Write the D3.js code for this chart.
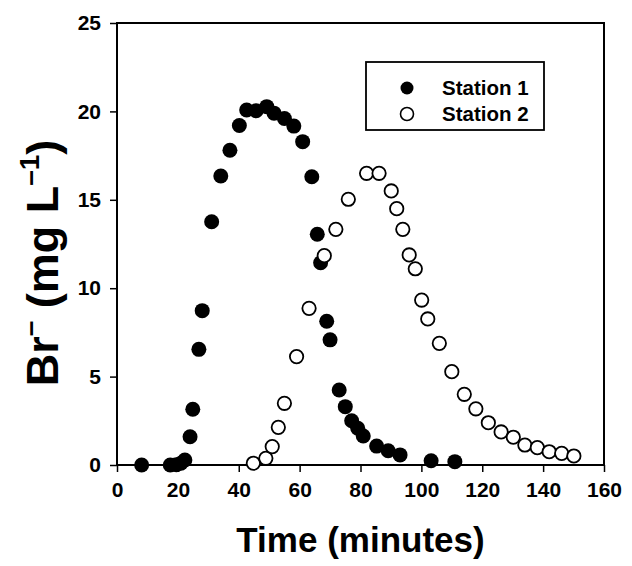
<!DOCTYPE html>
<html>
<head>
<meta charset="utf-8">
<script src="https://cdn.jsdelivr.net/npm/d3@7"></script>
<style>
  body { margin: 0; background: #fff; }
  svg { font-family: Arial, "Liberation Sans", sans-serif; font-weight: bold; }
</style>
</head>
<body>
<div id="chart"></div>
<script>
// Station 1 (filled) - time in minutes, Br- in mg/L
const s1Time = [8.1, 17.5, 19.5, 21, 22.3, 24.0, 24.9, 26.9, 28.0, 31.1, 34.1, 37.1, 40.2, 42.6, 45.7, 49.2, 51.6, 55.0,
  58.1, 61.0, 64.0, 65.8, 66.9, 68.9, 70.0, 73.0, 75.0, 77.1, 79.1, 80.9, 85.3, 89.1, 93.0, 103.2, 111.0];
const s1Br = [0, 0, 0.02, 0.1, 0.28, 1.6, 3.15, 6.54, 8.73, 13.76, 16.35, 17.8, 19.2, 20.08, 20.04, 20.27, 19.9, 19.6,
  19.17, 18.29, 16.3, 13.05, 11.44, 8.13, 7.08, 4.24, 3.3, 2.5, 2.08, 1.64, 1.07, 0.81, 0.57, 0.24, 0.19];

// Station 2 (open)
const s2Time = [44.8, 48.9, 51.0, 53.0, 55.0, 59.0, 63.1, 68.1, 71.9, 76.0, 82.0, 86.1, 90.1, 91.9, 93.9, 96.0, 98.0,
  100.1, 102.1, 105.9, 110.0, 114.1, 117.9, 122.0, 126.2, 130.2, 134.0, 138.1, 142.0, 146.1, 150.1];
const s2Br = [0.1, 0.38, 1.04, 2.13, 3.49, 6.13, 8.86, 11.84, 13.33, 15.03, 16.5, 16.5, 15.5, 14.5, 13.33, 11.88, 11.1,
  9.33, 8.26, 6.88, 5.28, 4.0, 3.18, 2.39, 1.87, 1.57, 1.13, 0.98, 0.75, 0.66, 0.51];

const xTicks = [0, 20, 40, 60, 80, 100, 120, 140, 160];
const yTicks = [0, 5, 10, 15, 20, 25];
const seriesNames = ['Station 1', 'Station 2'];

const W = 632, H = 566;
const margin = { top: 23, right: 28, bottom: 101, left: 117 };
const width = W - margin.left - margin.right;
const height = H - margin.top - margin.bottom;
const r = 7.5;

const svg = d3.select('#chart').append('svg')
  .attr('width', W)
  .attr('height', H);

const g = svg.append('g')
  .attr('transform', 'translate(' + margin.left + ',' + margin.top + ')');

const x = d3.scaleLinear().domain([0, 160]).range([0, width]);
const y = d3.scaleLinear().domain([0, 25]).range([height, 0]);

const xAxis = g.append('g')
  .attr('transform', 'translate(0,' + height + ')')
  .call(d3.axisBottom(x).tickValues(xTicks).tickSize(7).tickPadding(10));

const yAxis = g.append('g')
  .call(d3.axisLeft(y).tickValues(yTicks).tickSize(7).tickPadding(9));

[xAxis, yAxis].forEach(a => {
  a.select('.domain').remove();
  a.selectAll('line').attr('stroke', '#000').attr('stroke-width', 1.5);
  a.selectAll('text').attr('fill', '#000').style('font-size', '21px').style('font-weight', 'bold')
    .style('font-family', 'Arial, "Liberation Sans", sans-serif');
});

// frame
g.append('rect')
  .attr('width', width)
  .attr('height', height)
  .attr('fill', 'none')
  .attr('stroke', '#000')
  .attr('stroke-width', 2);

const pts1 = s1Time.map((t, i) => ({ t: t, v: s1Br[i] }));
const pts2 = s2Time.map((t, i) => ({ t: t, v: s2Br[i] }));

g.append('g').selectAll('circle')
  .data(pts1)
  .enter().append('circle')
  .attr('cx', d => x(d.t))
  .attr('cy', d => y(d.v))
  .attr('r', r)
  .attr('fill', '#000');

g.append('g').selectAll('circle')
  .data(pts2)
  .enter().append('circle')
  .attr('cx', d => x(d.t))
  .attr('cy', d => y(d.v))
  .attr('r', r - 0.8)
  .attr('fill', '#fff')
  .attr('stroke', '#000')
  .attr('stroke-width', 1.8);

// legend
const leg = svg.append('g').attr('transform', 'translate(366,62)');
leg.append('rect')
  .attr('width', 178)
  .attr('height', 68)
  .attr('fill', '#fff')
  .attr('stroke', '#000')
  .attr('stroke-width', 1.8);

seriesNames.forEach((name, i) => {
  const row = leg.append('g').attr('transform', 'translate(0,' + (26 + i * 26) + ')');
  row.append('circle')
    .attr('cx', 41)
    .attr('cy', 0)
    .attr('r', 6.5)
    .attr('fill', i === 0 ? '#000' : '#fff')
    .attr('stroke', '#000')
    .attr('stroke-width', i === 0 ? 0 : 1.6);
  row.append('text')
    .attr('x', 76)
    .attr('y', 7)
    .style('font-size', '20.5px')
    .text(name);
});

// axis titles
svg.append('text')
  .attr('x', margin.left + width / 2)
  .attr('y', 552)
  .attr('text-anchor', 'middle')
  .style('font-size', '35px')
  .text('Time (minutes)');

const yt = svg.append('text')
  .attr('transform', 'translate(58,263) rotate(-90)')
  .attr('text-anchor', 'middle')
  .style('font-size', '45px');
yt.append('tspan').text('Br');
yt.append('tspan').attr('dy', -19).style('font-size', '28px').text('\u2013');
yt.append('tspan').attr('dy', 19).text(' (mg L');
yt.append('tspan').attr('dy', -19).style('font-size', '28px').text('\u20131');
yt.append('tspan').attr('dy', 19).text(')');
</script>
</body>
</html>
